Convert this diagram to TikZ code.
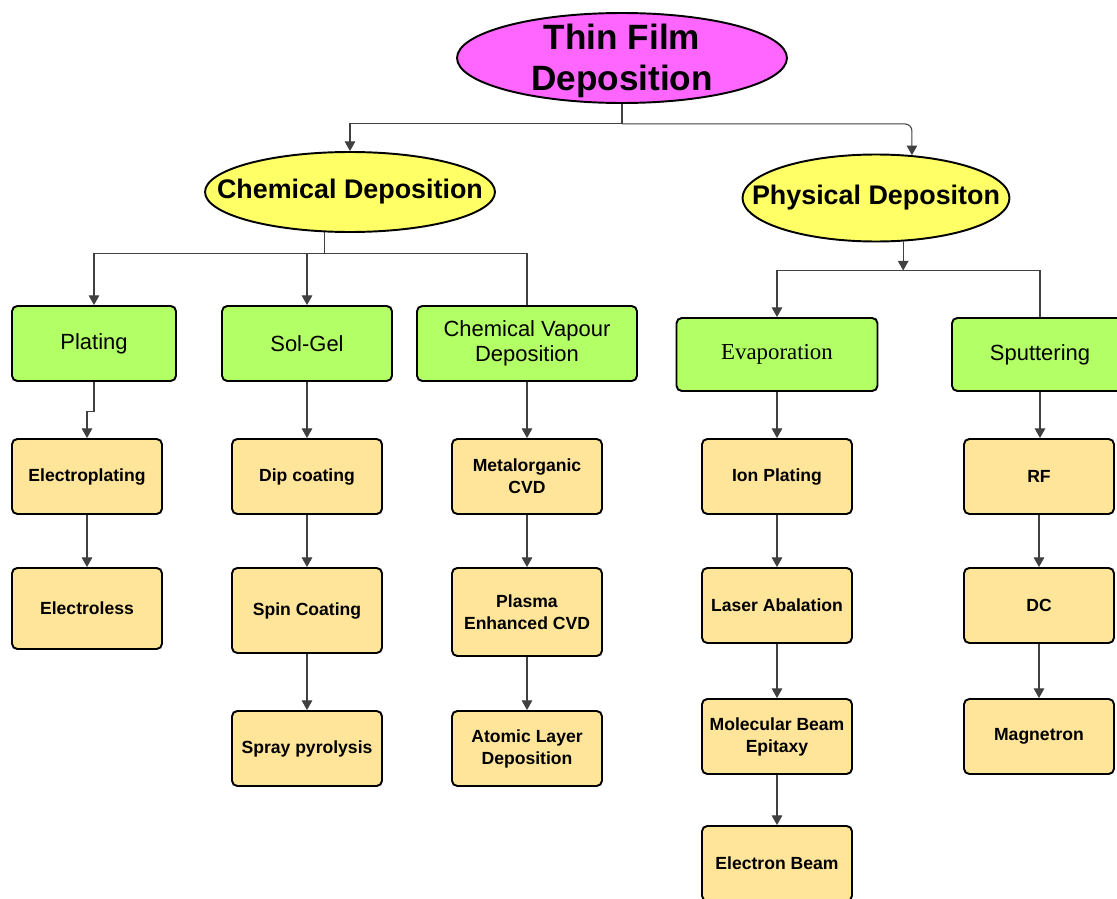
\documentclass[tikz,border=0pt]{standalone}
\usepackage{fontspec}
\setmainfont{Liberation Sans}
\newfontfamily\evapfont{Liberation Serif}
\usepackage{xcolor}
\usetikzlibrary{shapes.geometric,arrows.meta}

\definecolor{topmag}{HTML}{FF66FF}
\definecolor{headyel}{HTML}{FFFF66}
\definecolor{boxgreen}{HTML}{B3FF66}
\definecolor{boxtan}{HTML}{FFE599}
\definecolor{linegray}{HTML}{404040}

\begin{document}
\begin{tikzpicture}[x=0.02cm, y=-0.02cm,
        oval/.style={ellipse, draw, line width=1.1pt, inner sep=0pt},
        ovaltext/.style={align=center, font=\bfseries\fontsize{15.3}{18}\selectfont},
        methodbox/.style={rectangle, rounded corners=3pt, draw, line width=1.1pt, fill=boxgreen,
            minimum height=1.5cm, align=center, font=\fontsize{12.5}{14}\selectfont},
        techbox/.style={rectangle, rounded corners=3pt, draw, line width=1.1pt, fill=boxtan,
            minimum width=3cm, minimum height=1.5cm, align=center, font=\bfseries\fontsize{10}{12.5}\selectfont},
        arr/.style={draw=linegray, line width=0.6pt, -{Triangle[length=5.5pt,width=6pt]}},
        link/.style={draw=linegray, line width=0.6pt}]
        \useasboundingbox (0,0) rectangle (1117,899);

        % heads
        \node [oval, fill=topmag, minimum width=6.6cm, minimum height=1.8cm] (top) at (622,58) {};
        \node [align=center, font=\bfseries\fontsize{20}{23}\selectfont] (toptext) at (622,61) {Thin Film\\Deposition};
        \node [oval, fill=headyel, minimum width=5.8cm, minimum height=1.6cm] (chem) at (350,192) {};
        \node [ovaltext] (chemtext) at (chem.center) {Chemical Deposition};
        \node [oval, fill=headyel, minimum width=5.34cm, minimum height=1.74cm] (phys) at (876,198) {};
        \node [ovaltext] (phystext) at (phys.center) {Physical Depositon};

        % methods
        \node [methodbox, minimum width=3.28cm] (plating) at (94,343.5) {Plating};
        \node [methodbox, minimum width=3.4cm] (solgel) at (307,343.5) {Sol-Gel};
        \node [methodbox, minimum width=4.4cm] (cvd) at (527,343.5) {Chemical Vapour\\Deposition};
        \node [methodbox, minimum width=4.02cm, minimum height=1.46cm, font=\evapfont\fontsize{13}{15}\selectfont] (evap) at (777,354.5) {Evaporation};
        \node [methodbox, minimum width=3.52cm, minimum height=1.46cm] (sputt) at (1040,354.5) {Sputtering};

        % techniques
        \node [techbox] (electroplating) at (87,476.5) {Electroplating};
        \node [techbox, minimum height=1.62cm] (electroless) at (87,608.5) {Electroless};
        \node [techbox] (dip) at (307,476.5) {Dip coating};
        \node [techbox, minimum height=1.7cm] (spin) at (307,610.5) {Spin Coating};
        \node [techbox] (spray) at (307,748.5) {Spray pyrolysis};
        \node [techbox] (metal) at (527,476.5) {Metalorganic\\CVD};
        \node [techbox, minimum height=1.76cm] (plasma) at (527,612) {Plasma\\Enhanced CVD};
        \node [techbox] (ald) at (527,748.5) {Atomic Layer\\Deposition};
        \node [techbox] (ion) at (777,476.5) {Ion Plating};
        \node [techbox] (laser) at (777,605.5) {Laser Abalation};
        \node [techbox] (mbe) at (777,736.5) {Molecular Beam\\Epitaxy};
        \node [techbox] (ebeam) at (777,863.5) {Electron Beam};
        \node [techbox] (rf) at (1039,476.5) {RF};
        \node [techbox] (dc) at (1039,605.5) {DC};
        \node [techbox] (magn) at (1039,736.5) {Magnetron};

        % tree links
        \draw [link] (top.south) -- ++(0,20) coordinate (topjoin);
        \draw [arr] (topjoin) -| (chem.north);
        \draw [arr, rounded corners=4pt] (topjoin) -| (phys.50);
        \draw [link] (chem.-122) -- ++(0,21) coordinate (chemjoin);
        \draw [arr] (chemjoin) -| (plating.north);
        \draw [arr] (chemjoin) -| (solgel.north);
        \draw [link] (chemjoin) -| (cvd.north);
        \draw [arr] (phys.-58) -- ++(0,29) coordinate (physjoin);
        \draw [arr] (physjoin) -| (evap.north);
        \draw [link] (physjoin) -| (sputt.north);

        % columns
        \draw [arr] (plating.south) -- ++(0,30) -| (electroplating.north);
        \draw [arr] (electroplating) -- (electroless);
        \draw [arr] (solgel) -- (dip);
        \draw [arr] (dip) -- (spin);
        \draw [arr] (spin) -- (spray);
        \draw [arr] (cvd) -- (metal);
        \draw [arr] (metal) -- (plasma);
        \draw [arr] (plasma) -- (ald);
        \draw [arr] (evap) -- (ion);
        \draw [arr] (ion) -- (laser);
        \draw [arr] (laser) -- (mbe);
        \draw [arr] (mbe) -- (ebeam);
        \draw [arr] (sputt.south) -- (rf.north -| sputt.south);
        \draw [arr] (rf) -- (dc);
        \draw [arr] (dc) -- (magn);

    \end{tikzpicture}
\end{document}
